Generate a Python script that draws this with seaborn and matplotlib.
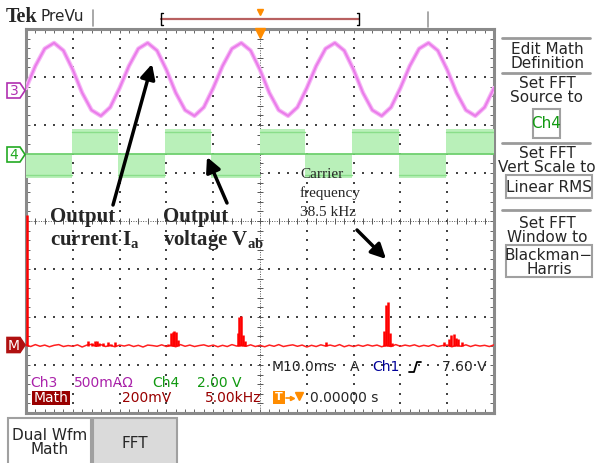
import numpy as np
import matplotlib
matplotlib.use("Agg")
import matplotlib.pyplot as plt
from matplotlib.patches import Rectangle, Polygon
import seaborn as sns

sns.set_style("white")
plt.rcParams['font.family'] = ['DejaVu Sans']
plt.rcParams['mathtext.fontset'] = 'custom'
plt.rcParams['mathtext.rm'] = 'Liberation Serif:bold'
plt.rcParams['mathtext.bf'] = 'Liberation Serif:bold'

# ---- data ----
# Ch3: output current (A), sampled every 2 ms
time_ms = list(range(0, 101, 2))
current_a = [0.01, 0.24, 0.42, 0.48, 0.40, 0.20, -0.04, -0.22, -0.28, -0.19,
             0.01, 0.24, 0.42, 0.48, 0.40, 0.20, -0.04, -0.22, -0.28, -0.19,
             0.01, 0.24, 0.42, 0.48, 0.40, 0.20, -0.04, -0.22, -0.28, -0.19,
             0.01, 0.24, 0.42, 0.48, 0.40, 0.20, -0.04, -0.22, -0.28, -0.19,
             0.01, 0.24, 0.42, 0.48, 0.40, 0.20, -0.04, -0.22, -0.28, -0.19,
             0.01]

# Ch4: output voltage, PWM band between 0 and +/- level (V)
switch_ms = [0, 9.8, 19.6, 29.6, 39.6, 49.9, 59.6, 69.6, 79.7, 89.7, 100]
polarity = [-1, 1, -1, 1, -1, 1, -1, 1, -1, 1]
band_top_v = 1.02
band_line_v = 0.9

# Math: FFT of Ch4 (kHz, mV rms)
fft_khz = [0.08, 6.6, 7.0, 7.4, 7.6, 7.8, 8.2, 8.8, 9.1, 9.5,
           15.2, 15.5, 15.7, 15.8, 16.0, 16.2,
           22.6, 22.75, 22.95, 23.2, 23.35,
           32.1,
           38.3, 38.5, 38.7, 38.85, 39.1,
           44.7, 45.2, 45.4, 45.7, 45.9, 46.2, 46.6]
fft_mv = [545, 22, 12, 20, 21, 12, 10, 15, 9, 14,
          8, 55, 58, 62, 56, 25,
          55, 122, 126, 46, 18,
          17,
          63, 172, 184, 55, 12,
          17, 29, 46, 50, 34, 29, 17]
noise_mv = [4, -3, 5, -2, 3, -4, 2, 5, -3, 1, -2, 4, -5, 3, 6, -2, 5, -3, 2, -4,
            3, -1, 4, -3, 2, -5, 3, 1, -2, 4, -3, 2, -4, 5, -2, 3, -3, 1, 4, -2,
            3, -4, 2, -3, 5, -1, 3, -2, 4, -3, 2, -4, 3, -2, 5, -3, 1, 4, -2, 3,
            -5, 2, -3, 4, -1, 3, -2, 5, -4, 2, -3, 3, -2, 4, -1, 3, -4, 2, -3, 5,
            -2, 3, -1, 4, -3, 2, -2, 5, -3, 1, 3, -4, 2, -2, 4, -3, 3, -1, 2, -3, 4]
noise_khz = np.linspace(0, 50, len(noise_mv))

# scope settings (scale per division, ground position in divisions)
CH3_SCALE, CH3_POS = 0.5, 2.75
CH4_SCALE, CH4_POS = 2.0, 1.405
MATH_SCALE, MATH_POS = 200.0, -2.6
TIME_DIV, FREQ_DIV = 10.0, 5.0

W, H = 597, 463
fig = plt.figure(figsize=(W / 100, H / 100), dpi=100)
fig.patch.set_facecolor('white')

GL, GR, GT, GB = 26, 494, 29, 413
pos = [GL / W, 1 - GB / H, (GR - GL) / W, (GB - GT) / H]

# graticule
ax = fig.add_axes(pos)
ax.set_xlim(0, 10)
ax.set_ylim(-4, 4)
ax.set_xticks([])
ax.set_yticks([])
for s in ax.spines.values():
    s.set_color('#8a8a8a')
    s.set_linewidth(2.2)
fine = np.arange(0, 10.01, 0.2)
fine_y = np.arange(-4, 4.01, 0.2)
for i in range(1, 10):
    if i != 5:
        ax.scatter(np.full(len(fine_y), i), fine_y, s=0.9, marker='s', color='#444444', lw=0, zorder=1)
for j in range(-3, 4):
    if j != 0:
        ax.scatter(fine, np.full(len(fine), j), s=0.9, marker='s', color='#444444', lw=0, zorder=1)
ax.axhline(0, ls=(0, (1, 1.5)), lw=0.7, color='#555555', zorder=1)
ax.axvline(5, ls=(0, (1, 1.5)), lw=0.7, color='#555555', zorder=1)
ax.vlines(fine, -0.07, 0.07, color='#555555', lw=0.7, zorder=1)
ax.hlines(fine_y, 4.93, 5.07, color='#555555', lw=0.7, zorder=1)
ax.vlines(fine, 3.92, 4, color='#666666', lw=0.7)
ax.vlines(fine, -4, -3.92, color='#666666', lw=0.7)
ax.hlines(fine_y, 0, 0.08, color='#666666', lw=0.7)
ax.hlines(fine_y, 9.92, 10, color='#666666', lw=0.7)


def overlay(xlim, scale, offset):
    a = fig.add_axes(pos)
    a.set_xlim(*xlim)
    a.set_ylim((-4 - offset) * scale, (4 - offset) * scale)
    a.patch.set_alpha(0)
    a.axis('off')
    return a


# Ch4 voltage band
a4 = overlay((0, 10 * TIME_DIV), CH4_SCALE, CH4_POS)
for t0, t1, p in zip(switch_ms[:-1], switch_ms[1:], polarity):
    a4.fill_between([t0, t1], 0, p * band_top_v, color='#b9f0b9', lw=0)
    a4.plot([t0, t1], [p * band_line_v] * 2, color='#8ade8a', lw=1.0)
a4.axhline(0, color='#6fd06f', lw=1.3)

# Ch3 current
a3 = overlay((0, 10 * TIME_DIV), CH3_SCALE, CH3_POS)
sns.lineplot(x=time_ms, y=current_a, ax=a3, color='#f6b6f6', lw=3.2, legend=False)
sns.lineplot(x=time_ms, y=current_a, ax=a3, color='#ea7cea', lw=1.5, legend=False)

# Math FFT
am = overlay((0, 10 * FREQ_DIV), MATH_SCALE, MATH_POS)
sns.lineplot(x=noise_khz, y=noise_mv, ax=am, color='#ff2020', lw=1.1, legend=False)
am.vlines(fft_khz, 0, fft_mv, color='#ff0000', lw=1.8)

# ---- pixel overlay for screen furniture ----
px = fig.add_axes([0, 0, 1, 1])
px.set_xlim(0, W)
px.set_ylim(H, 0)
px.patch.set_alpha(0)
px.axis('off')

# header
px.text(6, 22, 'Tek', fontsize=14.5, weight='bold', family='Liberation Serif', va='baseline')
px.text(40, 21, 'PreVu', fontsize=11, va='baseline')
px.plot([93, 93], [10, 26], color='#9a9a9a', lw=1.2)
px.plot([161, 359], [19, 19], color='#b86060', lw=1.6)
px.plot([163, 161, 161, 163], [13, 13, 25, 25], color='black', lw=1)
px.plot([357, 359, 359, 357], [13, 13, 25, 25], color='black', lw=1)
px.plot(260, 12, marker='v', color='#ff8c00', ms=5)
px.plot([428, 428], [12, 27], color='#9a9a9a', lw=1.2)
px.plot(260, 33, marker='v', color='#ff8c00', ms=7)

# right menu
for y in [38, 73, 143, 210]:
    px.plot([502, 590], [y, y], color='#9a9a9a', lw=2)
menu = [('Edit Math', 50), ('Definition', 64), ('Set FFT', 84), ('Source to', 98),
        ('Set FFT', 154), ('Vert Scale to', 168), ('Set FFT', 224), ('Window to', 238)]
for s, y in menu:
    px.text(547, y, s, ha='center', va='center', fontsize=11)
px.add_patch(Rectangle((533, 109), 27, 29, fc='white', ec='#a0a0a0', lw=1.5))
px.text(546.5, 123.5, 'Ch4', ha='center', va='center', fontsize=11, color='#119911')
px.add_patch(Rectangle((506, 175), 86, 23, fc='white', ec='#a0a0a0', lw=1.5))
px.text(549, 187, 'Linear RMS', ha='center', va='center', fontsize=11)
px.add_patch(Rectangle((506, 245), 86, 32, fc='white', ec='#a0a0a0', lw=1.5))
px.text(549, 255, 'Blackman\u2212', ha='center', va='center', fontsize=11)
px.text(549, 269, 'Harris', ha='center', va='center', fontsize=11)

# channel markers
def marker(yc, col, label, filled=False):
    pts = [(7, yc - 7.5), (20, yc - 7.5), (25, yc), (20, yc + 7.5), (7, yc + 7.5)]
    px.add_patch(Polygon(pts, closed=True, fc=col if filled else 'white', ec=col, lw=1.2))
    px.text(14, yc + 0.5, label, ha='center', va='center', fontsize=10,
            color='white' if filled else col)


marker(90.5, '#b030b0', '3')
marker(154.5, '#22aa22', '4')
marker(345, '#b01010', 'M', filled=True)

# readouts
fs = 10
px.text(272, 367, 'M10.0ms', fontsize=fs, va='center')
px.text(350, 367, 'A', fontsize=fs, va='center')
px.text(372, 367, 'Ch1', fontsize=fs, va='center', color='#000099')
px.plot([409, 414, 417, 421], [372, 372, 362, 362], color='black', lw=1.3)
px.text(442, 367, '7.60 V', fontsize=fs, va='center')
px.text(30, 383, 'Ch3', fontsize=fs, va='center', color='#aa22aa')
px.text(74, 383, '500mA\u03a9', fontsize=fs, va='center', color='#aa22aa')
px.text(152, 383, 'Ch4', fontsize=fs, va='center', color='#119911')
px.text(197, 383, '2.00 V', fontsize=fs, va='center', color='#119911')
px.add_patch(Rectangle((32, 391), 38, 14, fc='#990000', ec='none'))
px.text(51, 398, 'Math', fontsize=fs, va='center', ha='center', color='white')
px.text(122, 398, '200mV', fontsize=fs, va='center', color='#990000')
px.text(205, 398, '5.00kHz', fontsize=fs, va='center', color='#990000')
px.add_patch(Rectangle((273, 391), 12, 13, fc='#ff8c00', ec='none'))
px.text(279, 397.5, 'T', fontsize=8, va='center', ha='center', color='white', weight='bold')
px.plot([286, 292], [397.5, 397.5], color='#ff8c00', lw=1.2)
px.plot(292, 397.5, marker='>', color='#ff8c00', ms=3)
px.plot(299, 396, marker='v', color='#ff8c00', ms=6)
px.text(310, 398, '0.00000 s', fontsize=fs, va='center')

# bottom tabs
px.add_patch(Rectangle((8, 418), 83, 50, fc='white', ec='#a0a0a0', lw=1.5))
px.text(50, 436, 'Dual Wfm', ha='center', va='center', fontsize=11)
px.text(50, 450, 'Math', ha='center', va='center', fontsize=11)
px.add_patch(Rectangle((93, 418), 84, 50, fc='#dadada', ec='#a0a0a0', lw=1.5))
px.text(135, 443, 'FFT', ha='center', va='center', fontsize=11)

# annotations
arw = dict(arrowstyle='-|>', mutation_scale=22, lw=2.5, color='black', shrinkA=0, shrinkB=0)
px.annotate('', xy=(152, 64), xytext=(113, 205), arrowprops=arw)
px.annotate('', xy=(207, 157), xytext=(227, 203), arrowprops=arw)
px.annotate('', xy=(386, 259), xytext=(357, 230), arrowprops=arw)
ann = dict(fontsize=15, weight='bold', family='Liberation Serif', va='baseline')
px.text(50, 222, 'Output', **ann)
px.text(50, 245, r'current I$_{\mathbf{a}}$', **ann)
px.text(163, 222, 'Output', **ann)
px.text(163, 245, r'voltage V$_{\mathbf{ab}}$', **ann)
car = dict(fontsize=11, family='Liberation Serif', va='baseline')
px.text(300, 178, 'Carrier', **car)
px.text(300, 197, 'frequency', **car)
px.text(300, 216, '38.5 kHz', **car)

fig.savefig('out.png', dpi=100, facecolor='white')
